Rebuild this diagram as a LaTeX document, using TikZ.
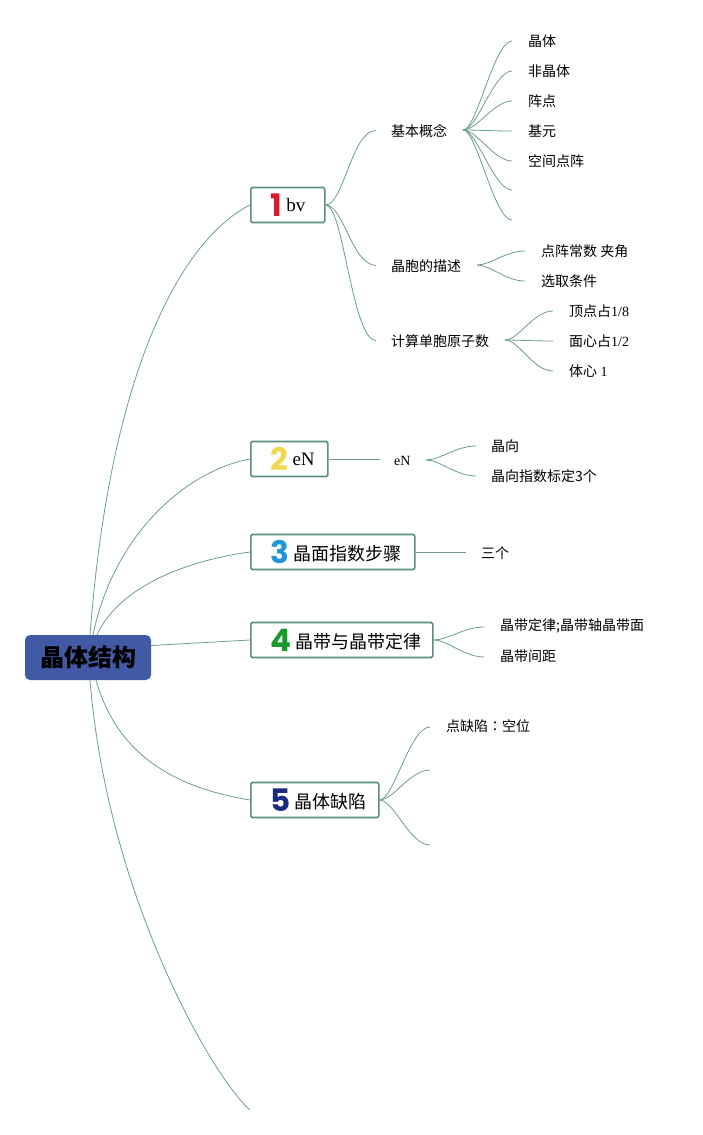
\documentclass[tikz,border=0pt]{standalone}
\usepackage{fontspec}
\setmainfont{Liberation Serif}
\newfontfamily\cjk{Noto Sans CJK SC}
\newfontfamily\cjktc{Noto Sans CJK TC}
\newfontfamily\numfont{Poppins}
\definecolor{linec}{HTML}{6A9E8A}
\definecolor{boxc}{HTML}{5B8E7D}
\definecolor{rootc}{HTML}{4259A6}
\definecolor{nred}{HTML}{D71A2E}
\definecolor{nyellow}{HTML}{F2D64B}
\definecolor{nblue}{HTML}{1E96D8}
\definecolor{ngreen}{HTML}{17992B}
\definecolor{nnavy}{HTML}{1B2B7F}
\newcommand{\topicnum}[2]{\raisebox{-3pt}{\numfont\bfseries\fontsize{31}{31}\selectfont\color{#1}#2}}
\newcommand{\topicbody}[3]{\makebox[#1pt][l]{\hspace{20pt}#2\hspace{4pt}#3}}
\begin{document}
\begin{tikzpicture}[x=1pt,y=-1pt,
  conn/.style={draw=linec, line width=0.8pt},
  topic/.style={draw=boxc, line width=1.6pt, fill=white, minimum height=35pt,
    inner xsep=0pt, inner ysep=0pt, anchor=west, rounded corners=1.5pt},
  leaf/.style={anchor=west, inner sep=0pt, font=\cjk\fontsize{14}{16}\selectfont},
  rootbox/.style={fill=rootc, rounded corners=5pt, minimum width=126pt, minimum height=45pt,
    inner sep=0pt, font=\cjk\bfseries\fontsize{24}{26}\selectfont, text=black}]
\useasboundingbox (0,0) rectangle (703,1135);

% root
\node[rootbox] (root) at (88,657.5) {晶体结构};

% main topics
\node[topic] (t1) at (250,205) {\topicbody{74}{\topicnum{nred}{1}}{\raisebox{2pt}{\fontsize{19}{20}\selectfont bv}}};
\node[topic] (t2) at (250,459) {\topicbody{77}{\topicnum{nyellow}{2}}{\raisebox{2pt}{\fontsize{19}{20}\selectfont eN}}};
\node[topic] (t3) at (250,552) {\topicbody{164}{\topicnum{nblue}{3}}{\cjk\fontsize{18}{20}\selectfont 晶面指数步骤}};
\node[topic] (t4) at (250,640) {\topicbody{182}{\topicnum{ngreen}{4}}{\cjk\fontsize{18}{20}\selectfont 晶带与晶带定律}};
\node[topic] (t5) at (250,800) {\topicbody{128}{\topicnum{nnavy}{5}}{\cjk\fontsize{18}{20}\selectfont 晶体缺陷}};
\coordinate (t6) at (250,1110);

% root connectors
\draw[conn] ([xshift=2pt]root.north) .. controls (112,350) and (190,235) .. (t1.west);
\draw[conn] ([xshift=5pt]root.north) .. controls (115,530) and (190,470) .. (t2.west);
\draw[conn] ([xshift=9pt]root.north) .. controls (120,585) and (190,560) .. (t3.west);
\draw[conn] ([yshift=12pt]root.east) -- (t4.west);
\draw[conn] ([xshift=8pt]root.south) .. controls (120,765) and (190,790) .. (t5.west);
\draw[conn] ([xshift=2pt]root.south) .. controls (108,900) and (215,1080) .. (t6);

% branch 1 subtopics
\node[leaf] (s11) at (391,131) {基本概念};
\node[leaf] (s12) at (391,266) {晶胞的描述};
\node[leaf] (s13) at (391,341) {计算单胞原子数};
\foreach \n/\y in {s11/130,s12/265,s13/340}{
  \draw[conn] (t1.east) .. controls +(18,0) and (352,\y) .. ([xshift=-15pt,yshift=0.5pt]\n.west);
}

% 基本概念 leaves
\coordinate (f11) at (463,130);
\node[leaf] (l1) at (528,41) {晶体};
\node[leaf] (l2) at (528,71) {非晶体};
\node[leaf] (l3) at (528,101) {阵点};
\node[leaf] (l4) at (528,131) {基元};
\node[leaf] (l5) at (528,161) {空间点阵};
\coordinate (e6) at (512,190);
\coordinate (e7) at (512,220);
\foreach \n in {l1,l2,l3,l4,l5}{
  \draw[conn] (f11) .. controls +(14,0) and +(-18,0) .. ([xshift=-16pt]\n.west);
}
\foreach \n in {e6,e7}{
  \draw[conn] (f11) .. controls +(14,0) and +(-18,0) .. (\n);
}

% 晶胞的描述 leaves
\coordinate (f12) at (477,265);
\node[leaf] (m1) at (541,251) {点阵常数 夹角};
\node[leaf] (m2) at (541,281) {选取条件};
\foreach \n in {m1,m2}{
  \draw[conn] (f12) .. controls +(14,0) and +(-20,0) .. ([xshift=-16pt]\n.west);
}

% 计算单胞原子数 leaves
\coordinate (f13) at (505,340);
\node[leaf] (n1) at (569,311) {顶点占{\rmfamily 1/8}};
\node[leaf] (n2) at (569,341) {面心占{\rmfamily 1/2}};
\node[leaf] (n3) at (569,371) {体心{\rmfamily\ 1}};
\foreach \n in {n1,n2,n3}{
  \draw[conn] (f13) .. controls +(14,0) and +(-20,0) .. ([xshift=-16pt]\n.west);
}

% branch 2
\node[anchor=west, inner sep=0pt, font=\fontsize{14}{16}\selectfont] (s21) at (394,461) {eN};
\draw[conn] (t2.east) -- ([xshift=-14pt]s21.west |- t2.east);
\coordinate (f21) at (426,460);
\node[leaf] (p1) at (491,446) {晶向};
\node[leaf] (p2) at (491,476) {晶向指数标定3个};
\foreach \n in {p1,p2}{
  \draw[conn] (f21) .. controls +(14,0) and +(-20,0) .. ([xshift=-15pt]\n.west);
}

% branch 3
\node[leaf] (s31) at (481,553) {三个};
\draw[conn] (t3.east) -- ([xshift=-15pt]s31.west |- t3.east);

% branch 4
\node[leaf] (s41) at (500,626) {晶带定律;晶带轴晶带面};
\node[leaf] (s42) at (500,656) {晶带间距};
\foreach \n in {s41,s42}{
  \draw[conn] (t4.east) .. controls +(14,0) and +(-20,0) .. ([xshift=-16pt,yshift=-1pt]\n.west);
}

% branch 5
\node[leaf] (s51) at (446,726) {点缺陷{\cjktc ：}空位};
\coordinate (s52) at (430,770);
\coordinate (s53) at (430,845);
\draw[conn] (t5.east) .. controls +(14,0) and +(-20,0) .. ([xshift=-16pt,yshift=-1pt]s51.west);
\foreach \n in {s52,s53}{
  \draw[conn] (t5.east) .. controls +(14,0) and +(-20,0) .. (\n);
}
\end{tikzpicture}
\end{document}
